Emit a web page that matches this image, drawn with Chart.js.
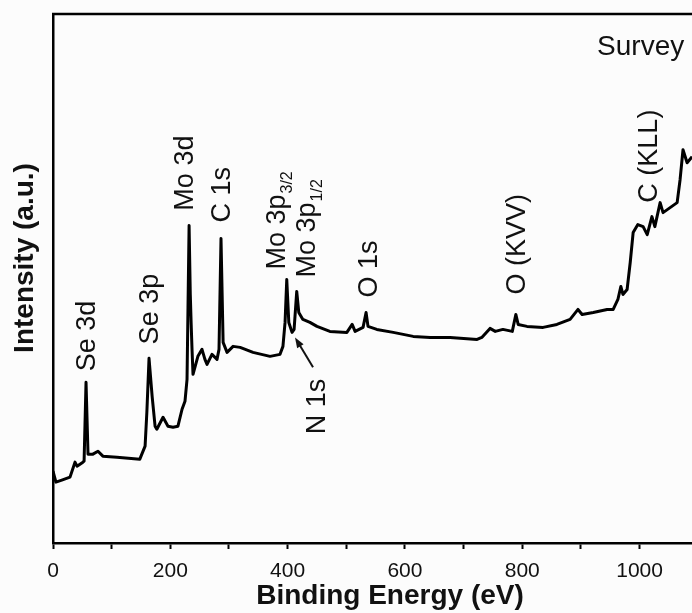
<!DOCTYPE html>
<html>
<head>
<meta charset="utf-8">
<title>XPS Survey</title>
<script src="https://cdn.jsdelivr.net/npm/chart.js@4/dist/chart.umd.min.js"></script>
<style>
	html, body { margin: 0; padding: 0; background: #fcfcfc; overflow: hidden; }
	#janela { width: 692px; height: 613px; overflow: hidden; }
	#grafico { display: block; }
</style>
</head>
<body>
<div id="janela">
	<canvas id="grafico" width="740" height="613"></canvas>
</div>
<script>
// Binding energy (eV) and intensity (a.u.)
var energia = [0, 5, 15, 29, 37.5, 41, 51, 53, 56.3, 59.7, 68, 76.7, 85, 109, 148, 157, 160, 163.7, 169, 174,
	177, 187.6, 196, 204.6, 213, 220, 225, 228.5, 232, 234, 235.5, 237, 238.7, 247, 254, 259, 262.6, 271, 279.6, 283,
	286.4, 290, 296.7, 307, 319, 341, 370, 387, 392, 395.6, 398.5, 402, 407.5, 411, 415.5, 419, 426, 438, 450, 472,
	501, 510, 515, 528.6, 533.7, 537, 552, 580, 614, 643, 677, 723, 731, 745, 754, 767, 783, 789, 793, 808,
	835.5, 859, 881.5, 895, 902, 921, 944.6, 955, 963, 968, 971.6, 978.7, 984, 989, 997, 1006, 1013, 1021, 1026, 1035,
	1040, 1052, 1064, 1069, 1074, 1081, 1089.5];
var intensidade = [72, 61, 63, 66, 81, 77, 81, 82, 161, 89, 89, 92, 87, 86, 84, 97, 131, 185, 147, 117,
	114, 126, 117, 116, 117, 134, 142, 164, 318, 250, 220, 194, 169, 187, 194, 184, 179, 189, 184, 194,
	305, 201, 191, 197, 196, 191, 187, 189, 197, 221, 264, 221, 211, 214, 252, 231, 224, 221, 217, 212,
	211, 219, 212, 216, 231, 217, 214, 211, 207, 206, 206, 204, 206, 215, 212, 214, 212, 229, 219, 217,
	216, 219, 224, 234, 229, 231, 234, 234, 244, 257, 249, 254, 281, 311, 319, 317, 309, 327, 317, 341,
	331, 336, 341, 364, 394, 381, 387];

var ticksEnergia = [0, 200, 400, 600, 800, 1000];

// peak labels: text, subscript, energy of the baseline, intensity where the text starts
var picos = [
	{ texto: 'Se 3d', sub: '', e: 71.6, i: 172 },
	{ texto: 'Se 3p', sub: '', e: 179, i: 199 },
	{ texto: 'Mo 3d', sub: '', e: 238.7, i: 333 },
	{ texto: 'C 1s', sub: '', e: 301.8, i: 321 },
	{ texto: 'Mo 3p', sub: '3/2', e: 395.6, i: 274 },
	{ texto: 'Mo 3p', sub: '1/2', e: 446.7, i: 266 },
	{ texto: 'O 1s', sub: '', e: 552.4, i: 246 },
	{ texto: 'O (KVV)', sub: '', e: 804.8, i: 249 },
	{ texto: 'C (KLL)', sub: '', e: 1029.8, i: 341 },
	{ texto: 'N 1s', sub: '', e: 463.8, i: 109 }
];

var FONTE = '"Liberation Sans", Arial, Helvetica, sans-serif';

var Anotacoes = {
	id: 'anotacoes',
	beforeDraw: function(chart) {
		var ctx = chart.ctx;
		ctx.save();
		ctx.fillStyle = '#fcfcfc';
		ctx.fillRect(0, 0, chart.width, chart.height);
		ctx.restore();
	},
	afterDraw: function(chart) {
		var ctx = chart.ctx;
		var area = chart.chartArea;
		var x = chart.scales.x;
		var y = chart.scales.y;

		ctx.save();
		// top frame line
		ctx.strokeStyle = '#000';
		ctx.lineWidth = 2.5;
		ctx.beginPath();
		ctx.moveTo(area.left - 1, area.top);
		ctx.lineTo(area.right, area.top);
		ctx.stroke();

		ctx.fillStyle = '#111';
		ctx.textBaseline = 'alphabetic';

		// y axis title
		ctx.save();
		ctx.translate(33, 258);
		ctx.rotate(-Math.PI / 2);
		ctx.textAlign = 'center';
		ctx.font = 'bold 28px ' + FONTE;
		ctx.fillText('Intensity (a.u.)', 0, 0);
		ctx.restore();

		picos.forEach(function(p) {
			ctx.save();
			ctx.translate(x.getPixelForValue(p.e), y.getPixelForValue(p.i));
			ctx.rotate(-Math.PI / 2);
			ctx.textAlign = 'left';
			ctx.font = '27px ' + FONTE;
			ctx.fillText(p.texto, 0, 0);
			if (p.sub) {
				var w = ctx.measureText(p.texto).width;
				ctx.font = '16px ' + FONTE;
				ctx.fillText(p.sub, w + 1, 7);
			}
			ctx.restore();
		});

		// arrow pointing N 1s
		var x0 = x.getPixelForValue(443.3), y0 = y.getPixelForValue(176);
		var x1 = x.getPixelForValue(412.6), y1 = y.getPixelForValue(206);
		var ang = Math.atan2(y1 - y0, x1 - x0);
		ctx.lineWidth = 2;
		ctx.strokeStyle = '#111';
		ctx.beginPath();
		ctx.moveTo(x0, y0);
		ctx.lineTo(x1 - 6 * Math.cos(ang), y1 - 6 * Math.sin(ang));
		ctx.stroke();
		ctx.beginPath();
		ctx.moveTo(x1, y1);
		ctx.lineTo(x1 - 11 * Math.cos(ang - 0.35), y1 - 11 * Math.sin(ang - 0.35));
		ctx.lineTo(x1 - 11 * Math.cos(ang + 0.35), y1 - 11 * Math.sin(ang + 0.35));
		ctx.closePath();
		ctx.fill();

		// sample label
		ctx.textAlign = 'left';
		ctx.font = '28px ' + FONTE;
		ctx.fillText('Survey', x.getPixelForValue(927.5), y.getPixelForValue(489));
		ctx.restore();
	}
};

var pontos = energia.map(function(e, k) {
	return { x: e, y: intensidade[k] };
});

var grafico = new Chart(document.getElementById('grafico').getContext('2d'), {
	type: 'line',
	data: {
		datasets: [{
			label: 'Survey',
			data: pontos,
			borderColor: '#000',
			borderWidth: 3,
			borderJoinStyle: 'round',
			pointRadius: 0,
			tension: 0,
			fill: false
		}]
	},
	options: {
		responsive: false,
		animation: false,
		devicePixelRatio: 1,
		layout: { padding: { top: 14, right: 13, left: 0, bottom: 0 } },
		plugins: {
			legend: { display: false },
			tooltip: { enabled: false }
		},
		scales: {
			x: {
				type: 'linear',
				min: 0,
				max: 1149,
				afterFit: function(scale) { scale.height = 70; },
				border: { display: true, color: '#000', width: 2.5 },
				grid: { drawOnChartArea: false, drawTicks: true, tickLength: 6, tickWidth: 2, tickColor: '#000' },
				ticks: {
					stepSize: 100,
					autoSkip: false,
					maxRotation: 0,
					padding: 10,
					color: '#111',
					font: { family: FONTE, size: 21 },
					callback: function(valor) {
						return ticksEnergia.indexOf(valor) >= 0 ? String(valor) : '';
					}
				},
				title: {
					display: true,
					text: 'Binding Energy (eV)',
					color: '#111',
					padding: { top: 0, bottom: 0 },
					font: { family: FONTE, size: 28, weight: 'bold' }
				}
			},
			y: {
				min: 0,
				max: 530,
				afterFit: function(scale) { scale.width = 53; },
				border: { display: true, color: '#000', width: 2.5 },
				grid: { display: false },
				ticks: { display: false }
			}
		}
	},
	plugins: [Anotacoes]
});
</script>
</body>
</html>
